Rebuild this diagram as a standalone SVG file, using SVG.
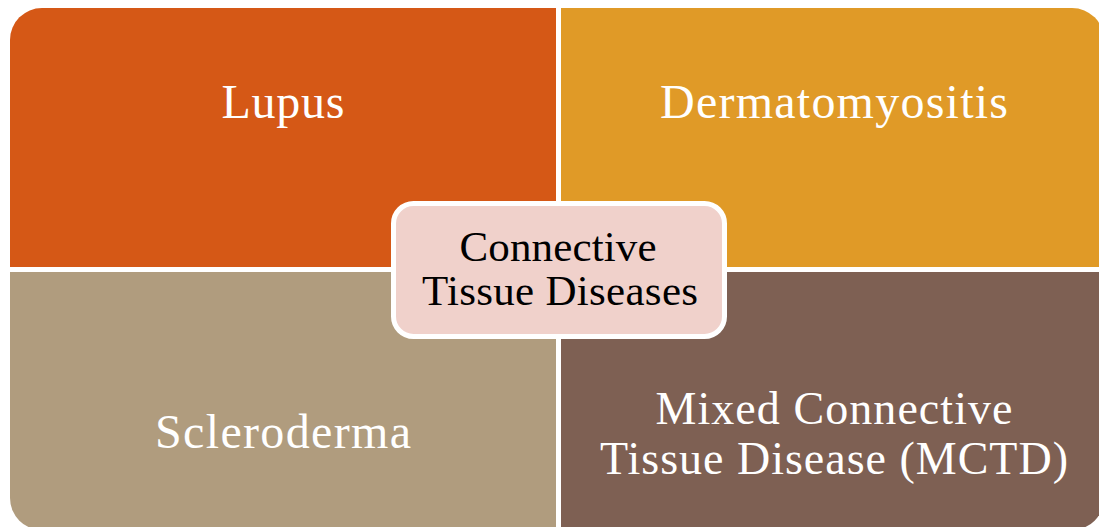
<svg xmlns="http://www.w3.org/2000/svg" width="1099" height="527" viewBox="0 0 1099 527">
  <style>
    .q { stroke: none; }
    .qt { font-family: "Liberation Serif", "Times New Roman", serif; font-size: 48px; fill: #ffffff; text-anchor: middle; }
    .mt { font-family: "Liberation Serif", "Times New Roman", serif; font-size: 46px; fill: #ffffff; text-anchor: middle; }
    .ct { font-family: "Liberation Serif", "Times New Roman", serif; font-size: 43px; fill: #000000; text-anchor: middle; }
  </style>
  <rect width="1099" height="527" fill="#ffffff"/>
  <g id="lupus">
    <path class="q" fill="#D55816" d="M10,40 A32,32 0 0 1 42,8 L556,8 L556,267 L10,267 Z"/>
    <text class="qt" x="283" y="118" textLength="123">Lupus</text>
  </g>
  <g id="dermatomyositis">
    <path class="q" fill="#E09A27" d="M561,8 L1072,8 A32,32 0 0 1 1104,40 L1104,267 L561,267 Z"/>
    <text class="qt" x="834" y="118" textLength="348">Dermatomyositis</text>
  </g>
  <g id="scleroderma">
    <path class="q" fill="#B09C7E" d="M10,272 L556,272 L556,530 L42,530 A32,32 0 0 1 10,498 Z"/>
    <text class="qt" x="283" y="448" textLength="256">Scleroderma</text>
  </g>
  <g id="mctd">
    <path class="q" fill="#7E6053" d="M561,272 L1104,272 L1104,498 A32,32 0 0 1 1072,530 L561,530 Z"/>
    <text class="mt" x="834" y="424" textLength="357">Mixed Connective</text>
    <text class="mt" x="834" y="474" textLength="468">Tissue Disease (MCTD)</text>
  </g>
  <g id="connectors"></g>
  <g id="center">
    <rect x="393.5" y="203.5" width="331" height="133" rx="20" ry="20" fill="#F0D1CB" stroke="#ffffff" stroke-width="5"/>
    <text class="ct" x="558" y="261" textLength="197">Connective</text>
    <text class="ct" x="560" y="305" textLength="276">Tissue Diseases</text>
  </g>
</svg>
